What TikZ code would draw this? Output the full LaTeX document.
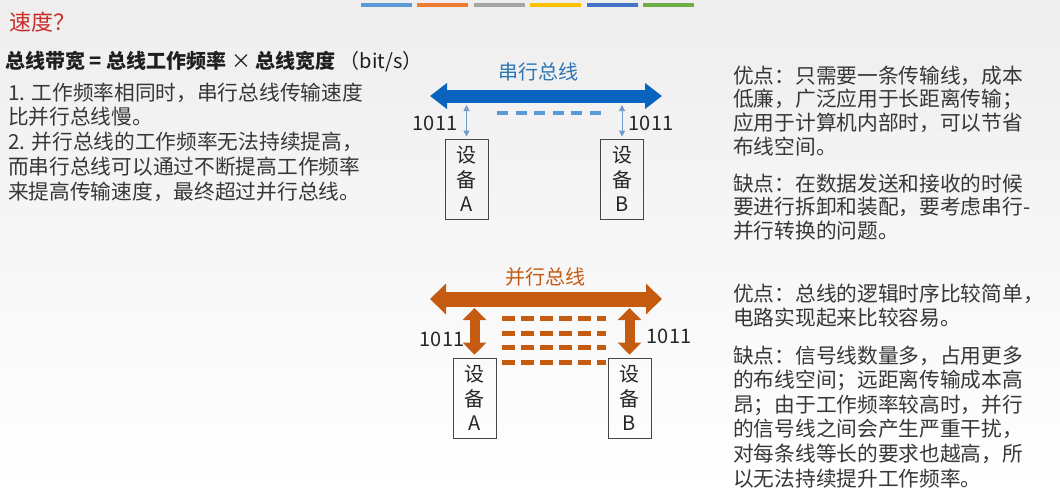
\documentclass[tikz,border=0pt]{standalone}
\usepackage{fontspec}
\setmainfont{Noto Sans CJK SC}
\usetikzlibrary{arrows.meta}
\definecolor{titlered}{RGB}{200,45,40}
\definecolor{busblue}{RGB}{8,100,190}
\definecolor{lblblue}{RGB}{46,117,182}
\definecolor{dashblue}{RGB}{91,155,213}
\definecolor{thinblue}{RGB}{115,155,205}
\definecolor{busorange}{RGB}{197,90,17}
\definecolor{txtgray}{RGB}{55,55,55}
\definecolor{boxgray}{RGB}{70,70,70}
\definecolor{barA}{RGB}{91,155,213}
\definecolor{barB}{RGB}{237,125,49}
\definecolor{barC}{RGB}{165,165,165}
\definecolor{barD}{RGB}{255,192,0}
\definecolor{barE}{RGB}{68,114,196}
\definecolor{barF}{RGB}{112,173,71}
\definecolor{bgtop}{RGB}{238,238,238}
\tikzset{
  bodytxt/.style={anchor=base west, inner sep=0pt, text=txtgray, font=\fontsize{20.7}{24.7}\selectfont},
  lbl/.style={inner sep=0pt, font=\fontsize{20}{24}\selectfont},
  numtxt/.style={inner sep=0pt, text=black!85, font=\fontsize{20}{24}\selectfont},
  dev/.style={draw=boxgray, line width=0.8pt, minimum width=43pt, minimum height=80pt, inner sep=0pt, align=center, text=black!85, font=\fontsize{20}{24.5}\selectfont},
  sbus/.style={draw=busblue, line width=13pt, {Triangle[width=25pt,length=17pt]}-{Triangle[width=25pt,length=17pt]}},
  pbus/.style={draw=busorange, line width=15pt, {Triangle[width=30pt,length=16pt]}-{Triangle[width=30pt,length=16pt]}},
  thinarr/.style={draw=thinblue, line width=1pt, {Triangle[width=6pt,length=6pt]}-{Triangle[width=6pt,length=6pt]}},
  thickarr/.style={draw=busorange, line width=10pt, {Triangle[width=23pt,length=12pt]}-{Triangle[width=23pt,length=12pt]}},
  sdash/.style={draw=dashblue, line width=4pt, dash pattern=on 11pt off 7.5pt},
  pdash/.style={draw=busorange, line width=5pt, dash pattern=on 13pt off 6pt},
  topbar/.style={line width=4pt}
}
\begin{document}
\begin{tikzpicture}[x=1pt,y=-1pt]
\shade[top color=bgtop, bottom color=white] (0,0) rectangle (1060,495);
\useasboundingbox (0,0) rectangle (1060,495);

% top colour bars
\foreach \c [count=\i from 0] in {barA,barB,barC,barD,barE,barF}
  \draw[topbar, \c] (361+56.4*\i,5) -- +(51,0);

% title and heading
\node[anchor=base west, inner sep=0pt, text=titlered, font=\fontsize{22}{26}\selectfont] (title) at (9,31) {速度？};
\node[anchor=base west, inner sep=0pt, text=black!88, font=\fontsize{20}{24}\selectfont] (head) at (5,68) {\bfseries 总线带宽 = 总线工作频率\mdseries{} × \bfseries 总线宽度\mdseries{} （bit/s）};

% left list
\foreach \t [count=\i from 0] in {1. 工作频率相同时，串行总线传输速度, 比并行总线慢。, 2. 并行总线的工作频率无法持续提高，, 而串行总线可以通过不断提高工作频率, 来提高传输速度，最终超过并行总线。}
  \node[bodytxt] (L\i) at (8, 100+24.75*\i) {\t};

% right column, serial
\foreach \t [count=\i from 0] in {优点：只需要一条传输线，成本, 低廉，广泛应用于长距离传输；, 应用于计算机内部时，可以节省, 布线空间。}
  \node[bodytxt] (SA\i) at (733, 83+23.7*\i) {\t};
\foreach \t [count=\i from 0] in {缺点：在数据发送和接收的时候, 要进行拆卸和装配，要考虑串行-, 并行转换的问题。}
  \node[bodytxt] (SD\i) at (733, 191+23.5*\i) {\t};

% right column, parallel
\foreach \t [count=\i from 0] in {优点：总线的逻辑时序比较简单，, 电路实现起来比较容易。}
  \node[bodytxt] (PA\i) at (733, 301+24*\i) {\t};
\foreach \t [count=\i from 0] in {缺点：信号线数量多，占用更多, 的布线空间；远距离传输成本高, 昂；由于工作频率较高时，并行, 的信号线之间会产生严重干扰，, 对每条线等长的要求也越高，所, 以无法持续提升工作频率。}
  \node[bodytxt] (PD\i) at (733, 363+24.6*\i) {\t};

% ---------- serial bus ----------
\node[lbl, text=lblblue] (stitle) at (538,72) {串行总线};
\coordinate (sL) at (430,96);
\coordinate (sR) at (662,96);
\draw[sbus] (sL) -- (sR);
\draw[sdash] (497,113) -- (606,113);
\node[dev] (devSA) at (466.5,179) {设\\备\\A};
\node[dev] (devSB) at (622,179) {设\\备\\B};
\coordinate (sTopA) at (466.5,105);
\coordinate (sTopB) at (622,105);
\draw[thinarr, shorten >=2pt] (sTopA) -- (devSA.north);
\draw[thinarr, shorten >=2pt] (sTopB) -- (devSB.north);
\node[numtxt] (sNumA) at (435,123) {1011};
\node[numtxt] (sNumB) at (651,123) {1011};

% ---------- parallel bus ----------
\node[lbl, text=busorange] (ptitle) at (545,277) {并行总线};
\coordinate (pL) at (430,299);
\coordinate (pR) at (662,299);
\draw[pbus] (pL) -- (pR);
\foreach \yy in {318,333,347,362}
  \draw[pdash] (502,\yy) -- (606,\yy);
\node[dev] (devPA) at (474.5,398) {设\\备\\A};
\node[dev] (devPB) at (629.5,398) {设\\备\\B};
\coordinate (pTopA) at (474.5,308);
\coordinate (pTopB) at (629.5,308);
\draw[thickarr, shorten >=3pt] (pTopA) -- (devPA.north);
\draw[thickarr, shorten >=3pt] (pTopB) -- (devPB.north);
\node[numtxt] (pNumA) at (442,339) {1011};
\node[numtxt] (pNumB) at (669,336) {1011};
\end{tikzpicture}
\end{document}
